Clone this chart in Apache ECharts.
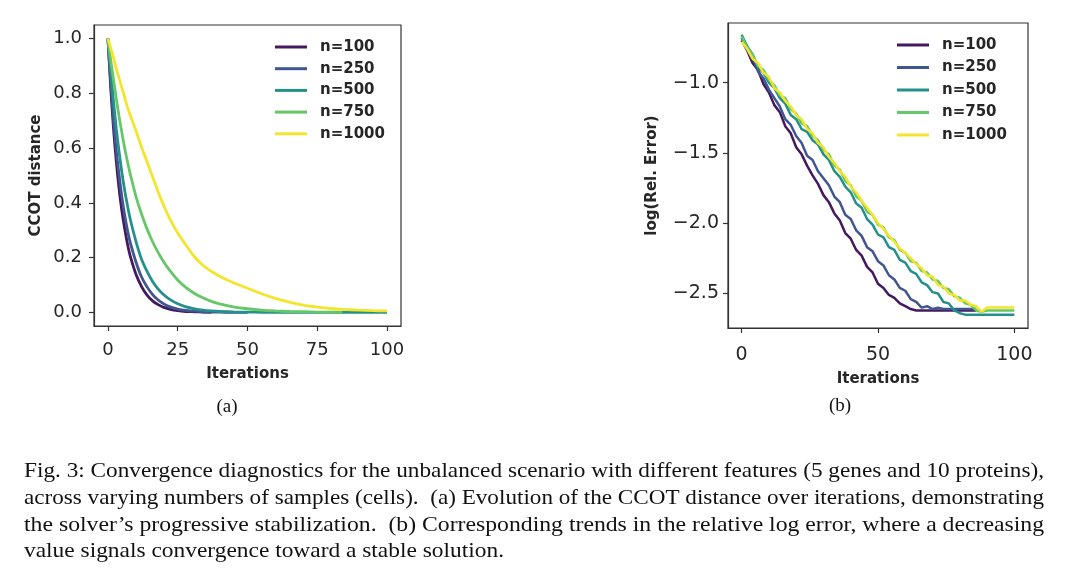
<!DOCTYPE html>
<html><head><meta charset="utf-8">
<script src="https://cdn.jsdelivr.net/npm/echarts@6/dist/echarts.min.js"></script>
<style>html,body{margin:0;padding:0;background:#fff}#c{width:1080px;height:588px}</style>
</head><body><div id="c"></div>
<script>
// ---------- data ----------
const seriesNames = ['n=100', 'n=250', 'n=500', 'n=750', 'n=1000'];

// (a) CCOT distance vs iterations
const leftIterations = [0,1,2,3,4,5,6,7,8,10,12,14,16,18,20,22,25,28,31,34,37,40,45,50,55,60,65,70,75,80,84,90,95,100];
const ccot100  = [1,0.82,0.67,0.55,0.45,0.37,0.305,0.25,0.205,0.14,0.095,0.063,0.042,0.028,0.018,0.012,0.006,0.003,0.002,0.001,0.0];
const ccot250  = [1,0.84,0.70,0.59,0.50,0.42,0.355,0.30,0.255,0.185,0.13,0.093,0.065,0.045,0.031,0.021,0.012,0.007,0.004,0.002,0.001,0.0005,0.0,0.0];
const ccot500  = [1,0.88,0.77,0.67,0.585,0.51,0.445,0.39,0.34,0.26,0.195,0.15,0.113,0.085,0.064,0.048,0.031,0.02,0.013,0.008,0.005,0.003,0.0015,0.0007,0.0003,0,0,0,0,0,0,0,0,0];
const ccot750  = [1,0.92,0.85,0.78,0.715,0.655,0.60,0.55,0.505,0.425,0.36,0.305,0.258,0.218,0.184,0.155,0.118,0.09,0.069,0.053,0.04,0.031,0.02,0.013,0.008,0.005,0.003,0.002,0.001,0.0007,0.0005];
const ccot1000 = [1,0.965,0.93,0.89,0.855,0.82,0.785,0.75,0.72,0.665,0.605,0.55,0.495,0.44,0.39,0.345,0.29,0.245,0.203,0.172,0.150,0.132,0.108,0.088,0.068,0.051,0.037,0.026,0.019,0.014,0.011,0.008,0.006,0.005];

// (b) log relative error vs iterations
const rightIterations = [0,2,4,6,8,10,12,14,16,18,20,22,24,26,28,30,32,34,36,38,40,42,44,46,48,50,52,54,56,58,60,62,64,66,68,70,72,74,76,78,80,82,84,86,88,90,92,94,96,98,100];
const logErr100  = [-0.70,-0.77,-0.86,-0.91,-1.01,-1.07,-1.16,-1.21,-1.31,-1.36,-1.46,-1.51,-1.59,-1.66,-1.72,-1.80,-1.85,-1.93,-1.98,-2.07,-2.11,-2.19,-2.23,-2.31,-2.35,-2.43,-2.46,-2.51,-2.53,-2.57,-2.59,-2.61,-2.62,-2.62,-2.62,-2.62,-2.62,-2.62,-2.62,-2.62,-2.62,-2.62,-2.62,-2.62];
const logErr250  = [-0.68,-0.76,-0.82,-0.92,-0.97,-1.05,-1.11,-1.17,-1.26,-1.30,-1.38,-1.43,-1.52,-1.55,-1.63,-1.68,-1.73,-1.81,-1.85,-1.94,-1.97,-2.05,-2.09,-2.17,-2.20,-2.27,-2.30,-2.37,-2.40,-2.46,-2.48,-2.54,-2.56,-2.60,-2.59,-2.61,-2.60,-2.61,-2.61,-2.61,-2.61,-2.61,-2.61,-2.61];
const logErr500  = [-0.66,-0.74,-0.80,-0.89,-0.93,-1.00,-1.04,-1.11,-1.15,-1.23,-1.26,-1.33,-1.35,-1.41,-1.44,-1.51,-1.55,-1.63,-1.67,-1.74,-1.78,-1.86,-1.89,-1.97,-2.01,-2.08,-2.10,-2.17,-2.19,-2.26,-2.28,-2.34,-2.36,-2.42,-2.44,-2.49,-2.50,-2.56,-2.57,-2.62,-2.64,-2.65,-2.65,-2.65,-2.65,-2.65,-2.65,-2.65,-2.65,-2.65,-2.65];
const logErr750  = [-0.67,-0.75,-0.80,-0.88,-0.91,-0.98,-1.02,-1.09,-1.11,-1.19,-1.22,-1.29,-1.31,-1.38,-1.41,-1.48,-1.51,-1.59,-1.62,-1.70,-1.73,-1.81,-1.84,-1.92,-1.94,-2.01,-2.03,-2.10,-2.12,-2.19,-2.21,-2.27,-2.28,-2.34,-2.35,-2.40,-2.41,-2.46,-2.47,-2.52,-2.53,-2.57,-2.58,-2.62,-2.63,-2.62,-2.62,-2.62,-2.62,-2.62,-2.62];
const logErr1000 = [-0.71,-0.76,-0.83,-0.86,-0.93,-0.96,-1.04,-1.07,-1.13,-1.17,-1.23,-1.26,-1.33,-1.36,-1.43,-1.46,-1.53,-1.57,-1.63,-1.67,-1.74,-1.78,-1.84,-1.89,-1.94,-2.00,-2.04,-2.09,-2.13,-2.18,-2.21,-2.25,-2.29,-2.32,-2.37,-2.38,-2.44,-2.45,-2.50,-2.51,-2.55,-2.55,-2.58,-2.59,-2.63,-2.60,-2.60,-2.60,-2.60,-2.60,-2.60];

// tick labels
const leftXTicks = [0, 25, 50, 75, 100];
const leftYTicks = [0, 0.2, 0.4, 0.6, 0.8, 1.0];
const rightXTicks = [0, 50, 100];
const rightYTicks = [-2.5, -2.0, -1.5, -1.0];

// texts
const leftYName = 'CCOT distance';
const rightYName = 'log(Rel. Error)';
const xName = 'Iterations';
const panelLabels = ['(a)', '(b)'];
const captionLines = [
  'Fig. 3: Convergence diagnostics for the unbalanced scenario with different features (5 genes and 10 proteins),',
  'across varying numbers of samples (cells).  (a) Evolution of the CCOT distance over iterations, demonstrating',
  'the solver\u2019s progressive stabilization.  (b) Corresponding trends in the relative log error, where a decreasing',
  'value signals convergence toward a stable solution.'
];

// ---------- styling ----------
const colors = ['#431a5e', '#415690', '#259089', '#66c768', '#f3e52c'];
const sans = '"DejaVu Sans", sans-serif';
const serif = '"Liberation Serif", serif';
const ink = '#262626';

function pairs(xs, ys) { return ys.map((y, i) => [xs[i], y]); }
const leftSets = [ccot100, ccot250, ccot500, ccot750, ccot1000];
const rightSets = [logErr100, logErr250, logErr500, logErr750, logErr1000];

const fmtY = v => (v < 0 ? '\u2212' : '') + Math.abs(v).toFixed(1);

function makeX(gi, ticks, labelMargin, fs, gap) {
  return {
    type: 'value', gridIndex: gi, min: -5, max: 105,
    axisLine: { show: true, onZero: false, lineStyle: { color: '#333', width: 1.2 } },
    axisTick: { show: true, customValues: ticks, length: 5, lineStyle: { color: '#333', width: 1.2 } },
    axisLabel: { customValues: ticks, fontSize: fs, fontFamily: sans, color: ink, margin: labelMargin },
    splitLine: { show: false },
    name: xName, nameLocation: 'middle', nameGap: gap,
    nameTextStyle: { fontFamily: sans, fontWeight: 'bold', fontSize: 15, color: ink }
  };
}
function makeY(gi, ticks, min, max, name, gap, fs, labelMargin) {
  return {
    type: 'value', gridIndex: gi, min: min, max: max,
    axisLine: { show: true, onZero: false, lineStyle: { color: '#333', width: 1.2 } },
    axisTick: { show: true, customValues: ticks, length: 5, lineStyle: { color: '#333', width: 1.2 } },
    axisLabel: { customValues: ticks, fontSize: fs, fontFamily: sans, color: ink, margin: labelMargin, formatter: fmtY },
    splitLine: { show: false },
    name: name, nameLocation: 'middle', nameGap: gap,
    nameTextStyle: { fontFamily: sans, fontWeight: 'bold', fontSize: 15, color: ink }
  };
}

const series = [];
seriesNames.forEach((n, i) => {
  series.push({
    name: n, type: 'line', xAxisIndex: 0, yAxisIndex: 0,
    data: pairs(leftIterations, leftSets[i]),
    showSymbol: false, smooth: 0.3,
    lineStyle: { color: colors[i], width: 2.8 }, itemStyle: { color: colors[i] },
    z: 2 + i
  });
});
seriesNames.forEach((n, i) => {
  series.push({
    name: n, type: 'line', xAxisIndex: 1, yAxisIndex: 1,
    data: pairs(rightIterations, rightSets[i]),
    showSymbol: false,
    lineStyle: { color: colors[i], width: 2.5 }, itemStyle: { color: colors[i] },
    z: 2 + i
  });
});

// caption measuring for justified lines
const mctx = document.createElement('canvas').getContext('2d');
const capFont = 22;
mctx.font = capFont + 'px "Liberation Serif"';
const capTargets = [1020, 1020, 1020, 480];
const capY = [471, 498, 525, 551];
const graphics = captionLines.map((t, i) => {
  const w = mctx.measureText(t).width;
  return {
    type: 'text', x: 24, y: capY[i], scaleX: capTargets[i] / w,
    style: { text: t, fontFamily: serif, fontSize: capFont, fill: '#111',
             textAlign: 'left', align: 'left', textVerticalAlign: 'middle', verticalAlign: 'middle' }
  };
});
graphics.push({ type: 'text', x: 227, y: 407, style: { text: panelLabels[0], fontFamily: serif, fontSize: 19, fill: '#111', textAlign: 'center', align: 'center', textVerticalAlign: 'middle', verticalAlign: 'middle' } });
graphics.push({ type: 'text', x: 840, y: 406, style: { text: panelLabels[1], fontFamily: serif, fontSize: 19, fill: '#111', textAlign: 'center', align: 'center', textVerticalAlign: 'middle', verticalAlign: 'middle' } });

const legendBase = {
  orient: 'vertical', icon: 'rect', itemWidth: 32, itemHeight: 3,
  textStyle: { fontFamily: sans, fontWeight: 'bold', fontSize: 15, color: ink, padding: [0, 0, 0, 8], lineHeight: 18 },
  data: seriesNames, selectedMode: false
};

const chart = echarts.init(document.getElementById('c'), null, { renderer: 'canvas' });
chart.setOption({
  backgroundColor: '#fff',
  animation: false,
  grid: [
    { left: 94, top: 25, width: 307, height: 301, show: true, borderColor: '#333', borderWidth: 1.2, containLabel: false },
    { left: 728, top: 23, width: 300, height: 305, show: true, borderColor: '#333', borderWidth: 1.2, containLabel: false }
  ],
  xAxis: [makeX(0, leftXTicks, 15, 18, 41), makeX(1, rightXTicks, 18, 19, 44)],
  yAxis: [makeY(0, leftYTicks, -0.05, 1.05, leftYName, 50, 18, 12), makeY(1, rightYTicks, -2.745, -0.576, rightYName, 68, 19, 9)],
  legend: [
    Object.assign({}, legendBase, { left: 270, top: 33, itemGap: 3.7 }),
    Object.assign({}, legendBase, { left: 892, top: 31, itemGap: 4.5 })
  ],
  series: series,
  graphic: graphics
});
</script></body></html>
